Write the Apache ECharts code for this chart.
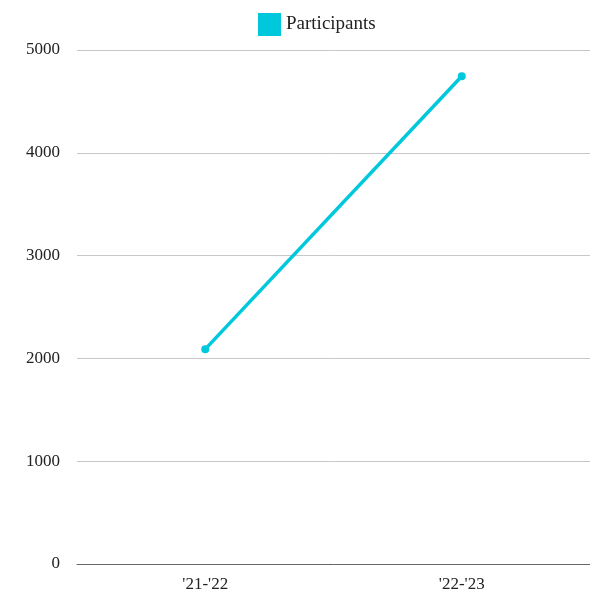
<!DOCTYPE html>
<html>
<head>
<meta charset="utf-8">
<script src="https://cdn.jsdelivr.net/npm/echarts@6/dist/echarts.min.js"></script>
<style>
    html, body { margin: 0; padding: 0; background: #fff; }
    #main { width: 590px; height: 595px; }
</style>
</head>
<body>
<div id="main"></div>
<script>
// data
var seasons = ["'21-'22", "'22-'23"];
var participants = [2090, 4745];

var myChart = echarts.init(document.getElementById('main'));
var fontName = '"Liberation Serif", "DejaVu Serif", serif';

var option = {
    backgroundColor: '#fff',
    textStyle: { fontFamily: fontName },
    legend: {
        data: ['Participants'],
        top: 8,
        left: 253,
        icon: 'rect',
        itemWidth: 23,
        itemHeight: 23,
        itemGap: 8,
        textStyle: { fontSize: 19, color: '#222', fontFamily: fontName }
    },
    grid: {
        left: 77,
        right: 0,
        top: 50,
        bottom: 31,
        containLabel: false
    },
    xAxis: {
        type: 'category',
        data: seasons,
        boundaryGap: true,
        axisLine: { lineStyle: { color: '#666', width: 1 } },
        axisTick: { show: false },
        axisLabel: { fontSize: 17, color: '#222', margin: 12, fontFamily: fontName }
    },
    yAxis: {
        type: 'value',
        min: 0,
        max: 5000,
        interval: 1000,
        axisLine: { show: false },
        axisTick: { show: false },
        splitLine: { lineStyle: { color: '#c8c8c8', width: 1 } },
        axisLabel: {
            fontSize: 17, color: '#222', margin: 17, fontFamily: fontName,
            formatter: function (v) { return String(v); }
        }
    },
    series: [
        {
            name: 'Participants',
            type: 'line',
            data: participants,
            color: '#00c8dc',
            symbol: 'circle',
            symbolSize: 8,
            showAllSymbol: true,
            lineStyle: { width: 3.5, color: '#00c8dc' },
            itemStyle: { color: '#00c8dc' }
        }
    ]
};

myChart.setOption(option);
</script>
</body>
</html>
